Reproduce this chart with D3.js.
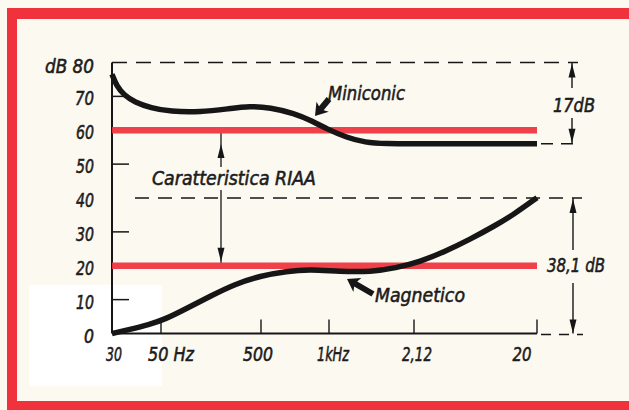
<!DOCTYPE html>
<html><head><meta charset="utf-8">
<script src="https://cdn.jsdelivr.net/npm/d3@7"></script>
<style>
body{margin:0;background:#fcf9f1;overflow:hidden}
svg{display:block}
text{font-family:"DejaVu Sans Condensed","Liberation Sans Narrow","Liberation Sans",sans-serif;font-style:oblique;fill:#1c1c1c;stroke:#1c1c1c;stroke-width:0.55px}
</style>
</head><body>
<svg id="c" width="629" height="410"></svg>
<script>
// ---------- data ----------
const xTickValues = [30, 50, 500, 1000, 2120, 20000];
const xTickLabels = ["30", "50 Hz", "500", "1kHz", "2,12", "20"];
const yTickValues = [0, 10, 20, 30, 40, 50, 60, 70, 80];
const yTickLabels = ["0", "10", "20", "30", "40", "50", "60", "70", "dB 80"];
const riaaLevels = [60, 20];
const miniconicFreq = [30, 31.5, 34, 38, 45, 62, 123, 245, 388, 548, 700, 849, 978, 1172, 1375, 1641, 2369, 20000];
const miniconicDb   = [76.5, 73.0, 70.4, 68.3, 66.6, 65.5, 65.3, 66.4, 67.1, 66.7, 65.0, 62.6, 60.4, 57.8, 56.4, 56.0, 56.0, 56.0];
const magneticoFreq = [30, 36, 44, 55, 90, 155, 275, 489, 650, 824, 1100, 1450, 1800, 2369, 3731, 5887, 9286, 13377, 20000];
const magneticoDb   = [0, 1.2, 2.6, 4.2, 7.4, 11.0, 14.6, 17.0, 18.4, 18.9, 18.3, 18.2, 19.3, 21.2, 24.2, 27.8, 31.8, 35.4, 40.1];
const bracketLabels = ["17dB", "38,1 dB"];
const noteLabels = ["Miniconic", "Magnetico", "Caratteristica RIAA"];

// ---------- layout ----------
const svg = d3.select("#c");
const RED = "#ef323c", INK = "#161616";
const x = d3.scaleLog().domain(xTickValues).range([112, 161, 261, 329, 414, 537]);
const y = d3.scaleLinear().domain([0, 80]).range([333.5, 62.5]);
const xL = x(30), xR = x(20000);

// background & scan patch
svg.append("rect").attr("width", 629).attr("height", 410).attr("fill", "#fcf9f1");
svg.append("rect").attr("x", 29).attr("y", 285).attr("width", 133).attr("height", 101).attr("fill", "#ffffff");

// red frame
svg.append("rect").attr("x", 7).attr("y", 8).attr("width", 622).attr("height", 11).attr("fill", RED);
svg.append("rect").attr("x", 7).attr("y", 8).attr("width", 10).attr("height", 402).attr("fill", RED);
svg.append("rect").attr("x", 7).attr("y", 401).attr("width", 622).attr("height", 9).attr("fill", RED);

function txt(s, tx, ty, w, anchor, size) {
  const t = svg.append("text").attr("x", tx).attr("y", ty)
    .attr("text-anchor", anchor || "start")
    .attr("font-size", size || 20).text(s);
  if (w) t.attr("textLength", w).attr("lengthAdjust", "spacingAndGlyphs");
  return t;
}
function arrowHead(tx, ty, dir) { // dir: 1 = pointing down, -1 = pointing up
  const L = 14, W = 3.5;
  svg.append("path").attr("d", `M${tx},${ty} L${tx - W},${ty - dir * L} L${tx + W},${ty - dir * L} Z`).attr("fill", INK);
}
function blockArrow(x0, y0, x1, y1) { // tail (x0,y0) -> tip (x1,y1)
  const ang = Math.atan2(y1 - y0, x1 - x0), len = Math.hypot(x1 - x0, y1 - y0);
  const g = svg.append("g").attr("transform", `translate(${x1},${y1}) rotate(${ang * 180 / Math.PI})`);
  g.append("path").attr("d", `M0,0 L-12,-8 L-10,-3 L${-len},-3 L${-len},3 L-10,3 L-12,8 Z`).attr("fill", INK);
}

// dashed guide lines
svg.append("line").attr("x1", xL).attr("x2", 578).attr("y1", y(80)).attr("y2", y(80))
  .attr("stroke", INK).attr("stroke-width", 1.6).attr("stroke-dasharray", "15 9");
svg.append("line").attr("x1", 135).attr("x2", 582).attr("y1", y(40)).attr("y2", y(40))
  .attr("stroke", INK).attr("stroke-width", 1.6).attr("stroke-dasharray", "14 9");
svg.append("line").attr("x1", xR + 4).attr("x2", 580).attr("y1", y(miniconicDb[miniconicDb.length - 1])).attr("y2", y(miniconicDb[miniconicDb.length - 1]))
  .attr("stroke", INK).attr("stroke-width", 1.6).attr("stroke-dasharray", "12 8");
svg.append("line").attr("x1", xR + 4).attr("x2", 583).attr("y1", y(0) + 1).attr("y2", y(0) + 1)
  .attr("stroke", INK).attr("stroke-width", 1.6).attr("stroke-dasharray", "10 8");

// axes
svg.append("line").attr("x1", xL).attr("x2", xL).attr("y1", y(80)).attr("y2", y(0)).attr("stroke", INK).attr("stroke-width", 2);
svg.append("line").attr("x1", xL).attr("x2", xR).attr("y1", y(0)).attr("y2", y(0)).attr("stroke", INK).attr("stroke-width", 2);
xTickValues.slice(1).forEach(v => {
  svg.append("line").attr("x1", x(v)).attr("x2", x(v)).attr("y1", y(0)).attr("y2", y(0) - 14).attr("stroke", INK).attr("stroke-width", 1.4);
});
[10, 30, 50, 70].forEach(v => {
  svg.append("line").attr("x1", xL).attr("x2", xL + 17).attr("y1", y(v)).attr("y2", y(v)).attr("stroke", INK).attr("stroke-width", 1.5);
});
const xLabW = [16, 46, 30, 32, 30, 19];
const xLabX = [114, 171, 258, 333, 417, 522];
xTickLabels.forEach((s, i) => txt(s, xLabX[i], 361, xLabW[i], "middle"));
const yLabW = [10, 18, 18, 18, 18, 18, 18, 19, 49];
yTickValues.forEach((v, i) => txt(yTickLabels[i], 94, y(v) + (i === 8 ? 10 : 9), yLabW[i], "end"));

// RIAA reference lines
riaaLevels.forEach(v => {
  svg.append("line").attr("x1", xL).attr("x2", xR).attr("y1", y(v)).attr("y2", y(v))
    .attr("stroke", RED).attr("stroke-width", 6.5).attr("opacity", 0.92);
});

// curves
const line = d3.line().x(d => x(d[0])).y(d => y(d[1])).curve(d3.curveBasis);
svg.append("path").datum(miniconicFreq.map((f, i) => [f, miniconicDb[i]]))
  .attr("d", line).attr("fill", "none").attr("stroke", INK).attr("stroke-width", 5.5).attr("stroke-linecap", "butt");
svg.append("path").datum(magneticoFreq.map((f, i) => [f, magneticoDb[i]]))
  .attr("d", line).attr("fill", "none").attr("stroke", INK).attr("stroke-width", 5.5).attr("stroke-linecap", "butt");

// RIAA annotation arrows
svg.append("line").attr("x1", 221).attr("x2", 221).attr("y1", y(60) + 3).attr("y2", 167).attr("stroke", INK).attr("stroke-width", 1.3);
arrowHead(221, 144, -1);
svg.append("line").attr("x1", 221).attr("x2", 221).attr("y1", 190).attr("y2", y(20) - 3).attr("stroke", INK).attr("stroke-width", 1.3);
arrowHead(221, y(20) - 4, 1);
txt(noteLabels[2], 152, 185, 164, "start");

// brackets
const yMinEnd = y(miniconicDb[miniconicDb.length - 1]);
svg.append("line").attr("x1", 572).attr("x2", 572).attr("y1", y(80)).attr("y2", 88).attr("stroke", INK).attr("stroke-width", 1.4);
svg.append("line").attr("x1", 572).attr("x2", 572).attr("y1", 118).attr("y2", yMinEnd).attr("stroke", INK).attr("stroke-width", 1.4);
arrowHead(572, y(80) + 1, -1);
arrowHead(572, yMinEnd - 1, 1);
txt(bracketLabels[0], 574, 112, 42, "middle");

svg.append("line").attr("x1", 573).attr("x2", 573).attr("y1", y(40)).attr("y2", 250).attr("stroke", INK).attr("stroke-width", 1.4);
svg.append("line").attr("x1", 573).attr("x2", 573).attr("y1", 283).attr("y2", y(0)).attr("stroke", INK).attr("stroke-width", 1.4);
arrowHead(573, y(40) + 1, -1);
arrowHead(573, y(0), 1);
txt(bracketLabels[1], 576, 272, 58, "middle");

// curve labels
blockArrow(329, 99, 315, 116);
txt(noteLabels[0], 328, 100, 77, "start");
blockArrow(373, 294, 347, 279);
txt(noteLabels[1], 375, 302, 90, "start");
</script>
</body></html>
